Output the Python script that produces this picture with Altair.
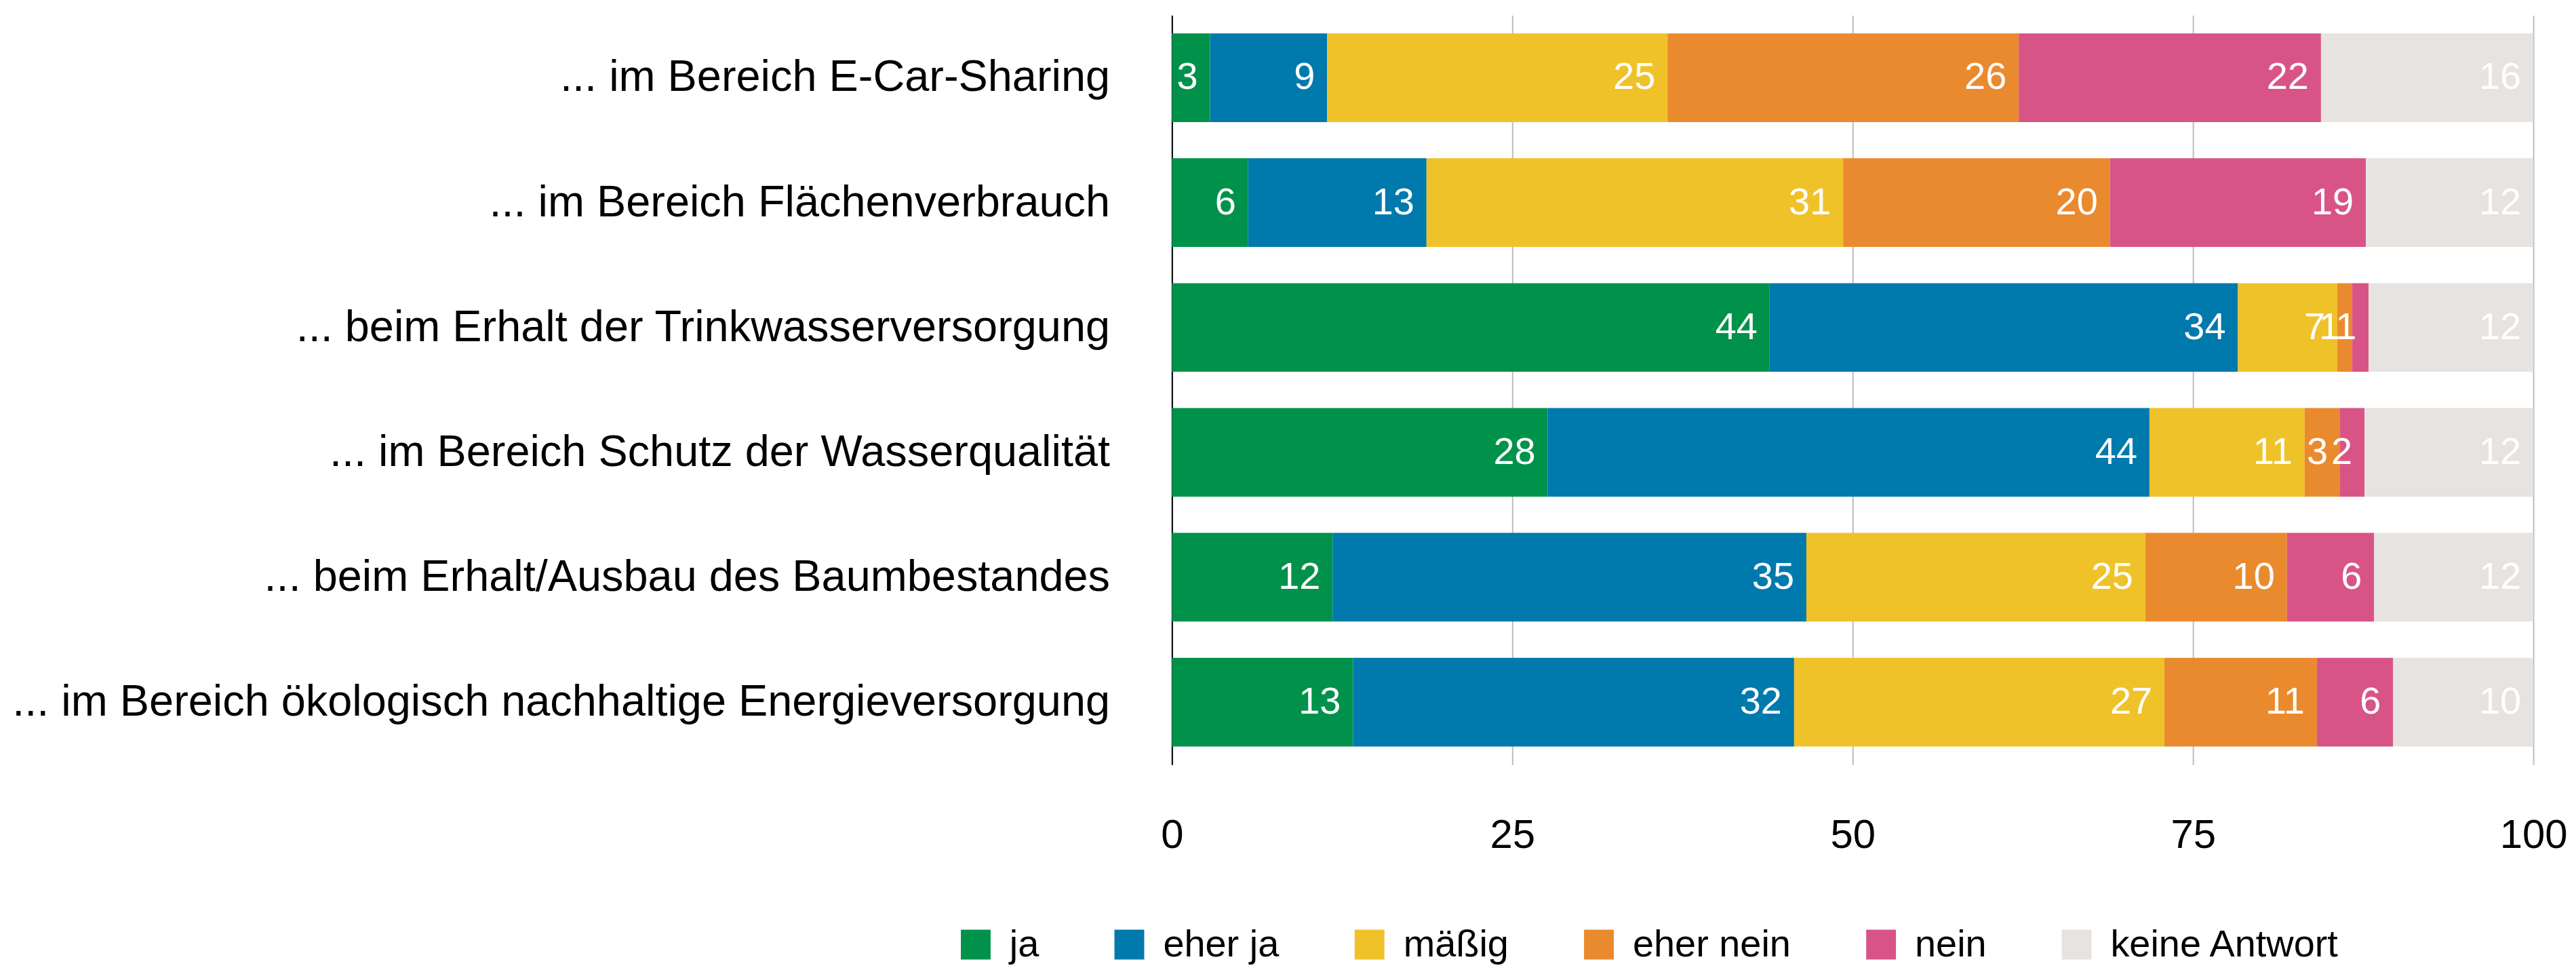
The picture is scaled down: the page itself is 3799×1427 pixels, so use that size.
import altair as alt
import pandas as pd

categories = [
    "... im Bereich E-Car-Sharing",
    "... im Bereich Flächenverbrauch",
    "... beim Erhalt der Trinkwasserversorgung",
    "... im Bereich Schutz der Wasserqualität",
    "... beim Erhalt/Ausbau des Baumbestandes",
    "... im Bereich ökologisch nachhaltige Energieversorgung",
]
answers = ["ja", "eher ja", "mäßig", "eher nein", "nein", "keine Antwort"]
colors = ["#00924A", "#0079AD", "#F0C22A", "#EA8A2E", "#D85487", "#E6E3E0"]

ja = [2.8, 5.6, 43.9, 27.6, 11.8, 13.3]
eher_ja = [8.6, 13.1, 34.4, 44.2, 34.8, 32.4]
maessig = [25.0, 30.6, 7.3, 11.4, 24.9, 27.2]
eher_nein = [25.8, 19.6, 1.1, 2.6, 10.4, 11.2]
nein = [22.2, 18.8, 1.2, 1.8, 6.4, 5.6]
keine_antwort = [15.6, 12.3, 12.1, 12.4, 11.7, 10.3]
series = [ja, eher_ja, maessig, eher_nein, nein, keine_antwort]
x_ticks = [0, 25, 50, 75, 100]

FONT = "Liberation Sans, Arial, sans-serif"

rows = []
for i, c in enumerate(categories):
    for j, (name, vals) in enumerate(zip(answers, series)):
        rows.append({"cat": c, "answer": name, "order": j, "value": vals[i]})
df = pd.DataFrame(rows)

y_enc = alt.Y(
    "cat:N",
    sort=categories,
    title=None,
    scale=alt.Scale(paddingInner=0.29, paddingOuter=0.145),
    axis=alt.Axis(
        domain=True, domainColor="#000000", domainWidth=2, ticks=False,
        labelPadding=92, labelFontSize=65, labelFont=FONT, labelColor="#000000",
        labelLimit=3000, grid=False,
    ),
)
x_scale = alt.Scale(domain=[0, 100], nice=False)
x_axis = alt.Axis(
    values=x_ticks, grid=True, gridColor="#BDBDBD", gridWidth=2, domain=False,
    ticks=False, tickSize=0, labelPadding=76, labelFontSize=60, labelFont=FONT,
    labelColor="#000000", labelFlush=False,
)

bars = alt.Chart(df).mark_bar().encode(
    y=y_enc,
    x=alt.X("value:Q", stack="zero", scale=x_scale, axis=x_axis, title=None),
    color=alt.Color(
        "answer:N",
        scale=alt.Scale(domain=answers, range=colors),
        legend=alt.Legend(
            orient="none", legendX=-318, legendY=1345, direction="horizontal",
            title=None, symbolType="square", symbolSize=1936, symbolStrokeWidth=0,
            labelFontSize=56, labelFont=FONT, labelColor="#000000", labelOffset=22,
            columnPadding=105, labelLimit=2000, padding=0, columns=6,
        ),
    ),
    order=alt.Order("order:Q", sort="ascending"),
)

labels = alt.Chart(df).transform_window(
    cum="sum(value)", groupby=["cat"], sort=[alt.SortField("order")], frame=[None, 0]
).mark_text(
    align="right", baseline="middle", dx=-18, fontSize=56, font=FONT, color="#FFFFFF"
).encode(
    y=alt.Y("cat:N", sort=categories, title=None),
    x=alt.X("cum:Q", scale=x_scale, title=None),
    text=alt.Text("value:Q", format=".0f"),
)

chart = alt.layer(bars, labels).properties(
    width=2012,
    height=1107,
    autosize=alt.AutoSizeParams(type="none"),
    padding={"left": 1724, "top": 13, "right": 55, "bottom": 299},
).configure_view(strokeWidth=0)

chart.save("out.html", embed_options={"renderer": "svg", "actions": False})
